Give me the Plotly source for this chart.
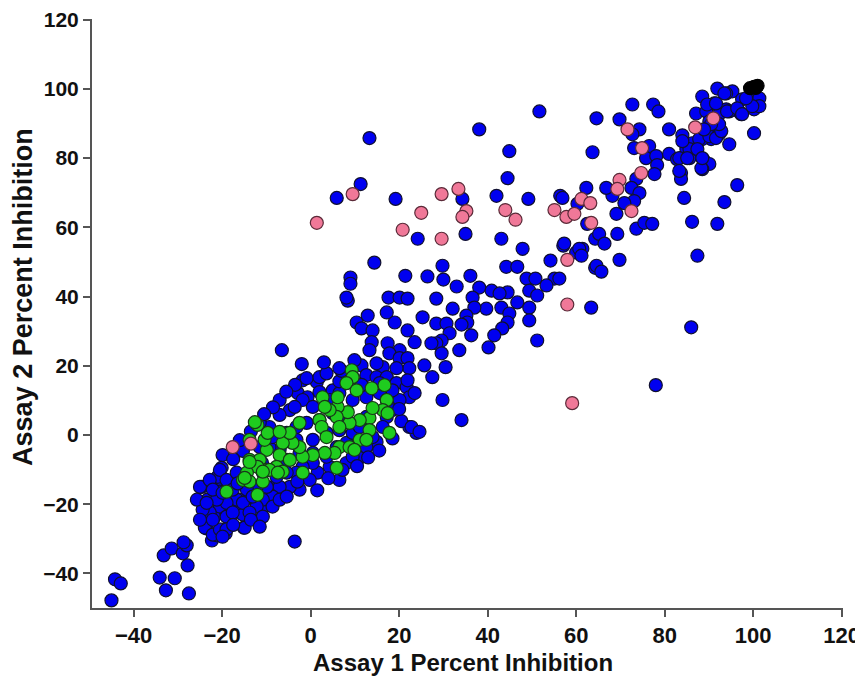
import plotly.graph_objects as go

# ---- data ----
blue_pts = [
    # lower-left tail
    (-45, -47.8), (-44.2, -41.7), (-42.9, -42.9), (-34.1, -41.2), (-32.7, -44.9), (-30.7, -41.4),
    (-27.5, -45.8), (-27.8, -37.7), (-33.2, -34.8), (-31.4, -32.8), (-28.9, -34.2), (-28, -31.9),
    (-28.7, -31), (-22.3, -30.5), (-23.5, -27), (-21.2, -29), (-19.2, -28.5), (-15.1, -26.8),
    (-23.9, -22.5), (-21.7, -23.6), (-19, -23), (-16.7, -22.2), (-15.3, -23), (-20.5, -20.7),
    (-18.3, -20.1), (-23.3, -18.7), (-24.6, -15), (-22.3, -13.5), (-19.9, -13.5), (-20.5, -16.4),
    (-18.3, -16.7), (-16, -18.7), (-13.8, -18.1), (-12.2, -20.1), (-10.8, -21), (-8.8, -19.6),
    (-7.7, -17.8), (-8.4, -15), (-19.9, -5.8), (-20.1, -9.5), (-21, -12.1), (-15.3, -4.6),
    # main cluster
    (8.4, 38.8), (16.3, 19.6), (11.5, 20.1), (-6.5, 24.5), (1.4, 15.3), (-1.8, 15.8), (-2.9, 12.1),
    (-0.7, 10.9), (2, 12.4), (5, 12.9), (8.1, 15), (9.5, 16.7), (12.6, 17.3), (14.9, 16.7),
    (17.2, 16.7), (19.4, 15), (21.7, 13.8), (22.3, 10.9), (20.1, 10.1), (18.5, 7.2), (22.3, 2.3),
    (23.9, 0.6), (14.9, -2), (11.1, -6.6), (8.1, -8.1), (6.5, -13), (1.6, -10.9), (-0.2, -13),
    (-2.5, -15.8), (-4.7, -15), (-7, -15), (-8.6, -17.8), (-10.8, -18.7), (-12.2, -20.7),
    (-8.6, -20.7), (-10.8, -23.6), (-14.9, -26.8), (-16.7, -18.7), (-19, -19.6), (-21.2, -18.7),
    (-22.8, -22.4), (-24.4, -21.6), (-23.9, -26.8), (-22.1, -28.8), (-20.5, -27.3), (-19, -23.6),
    (-17.6, -22.4), (-25, -15), (-22.8, -13), (-20.5, -10.1), (-3.6, -30.8),
    (-1.8, 10.1), (-4.7, 7.2), (-7, 5.8), (-9.3, 2.3), (-11.5, 3.5), (-7, 10.1), (-3.6, 8.1),
    (0.5, 8.1), (4.3, 10.1), (6.5, 12.1), (9.5, 10.1), (12.6, 10.9), (15.6, 12.1), (17.2, 10.1),
    (17.2, 5.2), (16.3, 2.3), (14, -0.6), (12.6, -3.5), (9.5, -6.3), (7.2, -10.1), (4.3, -9.2),
    (3.6, -6.3), (0.5, -8.1), (-1.8, -9.2), (-3.2, -10.9), (-5.4, -10.9), (-7.7, -12.1),
    (-9.9, -15), (-12.2, -15), (-14.4, -15.8), (-15.3, -19.6), (-13.8, -22.4), (-13.1, -17.8),
    (-5.4, -7.2), (-7, -4.3), (-9.3, -3.5), (-11.5, -3.5), (-3.2, -1.4), (0.5, -1.4), (3.6, 0.6),
    (6.5, 1.4), (8.1, -2.3), (5.9, -3.5), (0.5, -5.2), (-2.5, -5.2), (9.5, 0.6), (11.1, 2.3),
    (12.6, 5.2), (8.1, 4.3), (5, 6.3), (2, 4.3), (-0.9, 3.5), (-3.2, 2.3), (-5.4, 0.6),
    (-8.6, -0.6), (18.5, 12.9), (15.6, 15), (-19, -13), (-16.7, -10.9), (-22.1, -15.8),
    (-19.9, -16.7), (-17.6, -15.8), (-25.7, -18.7), (-23.5, -19.6), (-22.1, -24.5), (-25, -24.5),
    (-19, -27.3), (-19.9, -29.4), (-7, -18.7), (-5.4, -17.8), (-10.8, -10.9),
    (-0.9, 16.4), (2, 16.7), (3.6, 17.8),
    (-3.5, 14.5), (-5.5, 12.5), (-8.5, 8), (-10.5, 6), (-13.5, 1), (-16, -1.5), (-17.5, -7),
    (-16.5, -14), (-11, -8), (-3, -13.5), (1.5, -16), (4, -12.5), (10.5, -9), (13, -6.5),
    (15.5, -4.5), (18.5, -1), (20.5, 4), (20, 7.5), (6.5, 15.5), (11.5, 14.5), (-2, 20.5),
    (3, 21), (7, 18.5), (-13.5, -24.5), (-17.5, -26), (-11.5, -26.5),
    # middle band
    (11.3, 72.5), (5.9, 68.5), (19.2, 68.2), (34.3, 68.2), (44.5, 74.2), (42, 69.1), (49.2, 68.2),
    (56.4, 69.1), (62.3, 71.4), (60.3, 66.8), (62.5, 61), (24.2, 56.7), (35, 58.1), (43.1, 56.7),
    (47.9, 53.8), (54.2, 50.4), (57.1, 54.7), (60, 52.7), (61.4, 53.8), (64.3, 56.7), (64.3, 48.3),
    (63.4, 36.8), (14.4, 49.8), (9, 45.5), (9, 43.7), (8.1, 39.7), (21.4, 46), (26.4, 45.8),
    (29.8, 48.9), (30, 44.9), (33, 42.9), (36.1, 46), (38.1, 42.6), (40.9, 41.7), (44.2, 48.6),
    (46.7, 48.6), (48.8, 45.2), (50.8, 45.2), (55.1, 45.2), (53.3, 43.2), (49.4, 41.7), (51.2, 40.3),
    (46.7, 38.3), (44.5, 41.2), (42.7, 40.9), (36.6, 39.7), (39.7, 36.5), (43.1, 36.8), (44.9, 35.1),
    (44.5, 32.5), (49.4, 36.8), (49.4, 33.1), (51.2, 27.3), (43.3, 30.8), (41.5, 28.8), (40.2, 25.3),
    (37, 36.8), (35.2, 34.5), (35.4, 32.5), (36.3, 28.8), (34.1, 31.9), (32.1, 36.5), (33.6, 24.5),
    (28.4, 39.4), (25.3, 34), (17.6, 39.7), (20.1, 39.7), (21.9, 39.4), (28.4, 32.2), (30.7, 32.2),
    (31.4, 29.4), (29.6, 27.3), (28.4, 26.5), (29.6, 23.6), (27.3, 26.5), (23.5, 26.8), (21.9, 30.2),
    (19, 32.5), (17.2, 35.4), (12.9, 34.5), (10.4, 32.5), (11.5, 30.8), (14, 30.2), (13.8, 26.8),
    (13.3, 24.5), (17.4, 26.5), (20.1, 24.5), (17.8, 23.6), (20.1, 22.2), (21.9, 22.2), (22.3, 19.3),
    (19.4, 19.3), (25.7, 20.1), (27.5, 16.7), (30.5, 19.6), (29.8, 10.1), (34.1, 4.3), (22.8, 2.3),
    (24.6, 0.9), (14.9, 20.7), (9.9, 21.6), (6.5, 19.3), (23.5, 12.1), (21.9, 15.8),
    (44.9, 82), (13.3, 85.8), (38.1, 88.3), (51.7, 93.5), (78, 14.4),
    # upper right
    (72.7, 95.5), (77.4, 95.5), (78.6, 93.5), (64.6, 91.5), (69.8, 91.2), (74.3, 88.3), (72.7, 86.9),
    (63.7, 81.7), (73.1, 82.9), (76.5, 83.5), (75.8, 80), (78.1, 80.6), (78.3, 78), (77.7, 75.4),
    (73.6, 74), (72.5, 71.4), (74.3, 69.9), (73.1, 67.6), (70.9, 67), (68.2, 69.1), (66.8, 71.4),
    (69.1, 63.9), (69.3, 58.1), (73.6, 59.6), (75.4, 61.3), (77.2, 61), (65.2, 58.1), (66.4, 55.3),
    (69.8, 50.6), (64.6, 48.9), (65.7, 47.2), (60.7, 53.8), (61.2, 51.8), (57.3, 55.3), (56.9, 68.5),
    (81, 88.3), (84, 86.6), (81, 81.2), (82.8, 79.7), (85.6, 80), (83.7, 75.7), (83.7, 74),
    (88.7, 79.7), (90.1, 78.3), (88.5, 76.8), (84.4, 68.5), (86.2, 61.6), (91.9, 61), (93.5, 67.3),
    (96.4, 72.2), (87.4, 51.8), (86, 31.1), (100.2, 87.2), (94.6, 84), (91.9, 100.1), (95.3, 99.3),
    (93.9, 98.7), (88.5, 97.8), (91.2, 95.8), (87.1, 92.9), (89.4, 93.5), (93.9, 94.1), (96.8, 93.5),
    (100.2, 94.1), (97.5, 97), (99.5, 97.8), (101.4, 97.3), (101.4, 95), (92.3, 92.7), (90.1, 90.6),
    (91.6, 88.6), (92.3, 86.9), (90.5, 85.5), (88.5, 85.5), (86.2, 84.3), (84.9, 82.6), (94.6, 93.5),
    (97.3, 92.7), (56.2, 45.2),
    (85.6, 82.6), (83.3, 80), (85.1, 80), (87.8, 85.5), (90.1, 86.3), (91.6, 85.8), (92.8, 87.8),
    (92.3, 89.8), (94.1, 93.5), (96.4, 94.4), (97.5, 92.7), (99.8, 95), (98.4, 97.3), (93.5, 98.7),
    (89.6, 95.5), (91.6, 95.8), (90.5, 89.8), (88.9, 88.3), (84, 84.9), (87.4, 82.6), (83.3, 76.3),
    (88.3, 77.1), (88.5, 80),
]

green_pts = [
    (9.3, 18.7), (9.5, 16.7), (8.1, 15), (10.4, 12.9), (13.8, 13.5), (16.7, 14.4), (17.2, 10.1),
    (16.3, 7.2), (17.4, 6.3), (13.3, 4.9), (14, 7.8), (11.1, 4.3), (8.8, 3.5), (8.4, 6.6), (6.1, 8.1),
    (5.9, 5.2), (4.3, 7.2), (2.7, 10.9), (6.1, 10.9), (3.2, 8.1), (2, 4.3), (2.5, 2.3), (6.5, 2.3),
    (11.1, -1.4), (13.3, 1.4), (17.8, 0.6), (6.5, -3.5), (5.4, -5.2), (3.2, -5.2), (0.5, -5.8),
    (-1.8, -6.3), (-2.5, -3.5), (-4.1, -2.3), (-6.3, -2.3), (-7, -5.8), (-4.7, -7.2), (-9.9, -4.3),
    (-10.4, -1.4), (-9.7, 0.6), (-12, 2.9), (-12.6, 3.7), (-13.8, -1.4), (-13.8, -7.2), (-11.5, -7.2),
    (-9.9, -10.1), (-12, -9.2), (-7.7, -9.2), (-6.3, -10.6), (-14.4, -10.9), (-15.3, -13),
    (-13.8, -13.5), (-10.8, -13.5), (-19, -16.4), (-12, -17.3), (-1.8, -10.9), (5.9, -9.5),
    (-2.5, 3.5), (-4.7, 0.6), (-7, 0.9), (3.6, -0.6), (8.8, -3.5), (9.9, -4.3), (12.6, -1.4),
    (-14.9, -12.4), (-9.3, -10.1), (-7.4, -10.9), (-10.8, -10.6), (-13.8, -7.8),
]

pink_pts = [
    (-17.6, -3.5), (-13.5, -2.5), (1.4, 61.3), (9.5, 69.6), (20.8, 59.3), (25, 64.2), (29.6, 69.6),
    (29.6, 56.7), (33.4, 71.1), (35.2, 64.7), (34.3, 63), (44, 65), (46.3, 62.2), (55.1, 65),
    (57.8, 63), (59.6, 63.9), (61.2, 68.2), (63.2, 67), (63.4, 61.3), (58, 50.6), (58, 37.7),
    (59.1, 9.2), (71.6, 88.3), (74.9, 82.9), (74.7, 75.7), (69.8, 73.7), (69.3, 71.1), (72.5, 64.7),
    (86.9, 88.9), (91, 91.5),
]

black_pts = [(99.3, 100.2), (100.2, 100.6), (101, 100.9), (100.6, 100.3)]

blue_x = [p[0] for p in blue_pts]
blue_y = [p[1] for p in blue_pts]
green_x = [p[0] for p in green_pts]
green_y = [p[1] for p in green_pts]
pink_x = [p[0] for p in pink_pts]
pink_y = [p[1] for p in pink_pts]
black_x = [p[0] for p in black_pts]
black_y = [p[1] for p in black_pts]

x_ticks = [-40, -20, 0, 20, 40, 60, 80, 100, 120]
y_ticks = [-40, -20, 0, 20, 40, 60, 80, 100, 120]

# ---- figure ----
MS = 13

def series(x, y, fill, edge):
    return go.Scatter(x=x, y=y, mode="markers", showlegend=False, hoverinfo="x+y",
                      marker=dict(size=MS, color=fill, line=dict(color=edge, width=1.2)))

fig = go.Figure()
fig.add_trace(series(blue_x, blue_y, "#0000F0", "#10102e"))
fig.add_trace(series(green_x, green_y, "#1FCC1F", "#183818"))
fig.add_trace(series(pink_x, pink_y, "#F07898", "#5a2a38"))
fig.add_trace(series(black_x, black_y, "#000000", "#000000"))

sans = "Liberation Sans, Arial, sans-serif"

# the page body adds an 8px offset, so the figure is sized 855x670
fig.update_layout(
    width=855, height=670,
    margin=dict(l=84, r=20, t=11, b=70, autoexpand=False),
    paper_bgcolor="white", plot_bgcolor="white",
    xaxis=dict(range=[-49.4, 120.3], tickvals=x_ticks, ticks="outside", ticklen=7, tickwidth=1.5,
               tickcolor="#555", showline=True, linecolor="#555", linewidth=2, showgrid=False,
               zeroline=False, automargin=False,
               tickfont=dict(family=sans, size=22, color="#111", weight="bold")),
    yaxis=dict(range=[-50, 120.2], tickvals=y_ticks, ticks="outside", ticklen=7, tickwidth=1.5,
               tickcolor="#555", showline=True, linecolor="#555", linewidth=2, showgrid=False,
               zeroline=False, automargin=False,
               tickfont=dict(family=sans, size=21, color="#111", weight="bold")),
    annotations=[
        dict(text="Assay 1 Percent Inhibition", xref="paper", yref="paper", x=0.494, y=-0.092,
             xanchor="center", yanchor="middle", showarrow=False,
             font=dict(family=sans, size=24, color="#111", weight="bold")),
        dict(text="Assay 2 Percent Inhibition", xref="paper", yref="paper", x=-0.092, y=0.528,
             xanchor="center", yanchor="middle", showarrow=False, textangle=-90,
             font=dict(family=sans, size=27, color="#111", weight="bold")),
    ],
)

fig.write_html("out.html")
